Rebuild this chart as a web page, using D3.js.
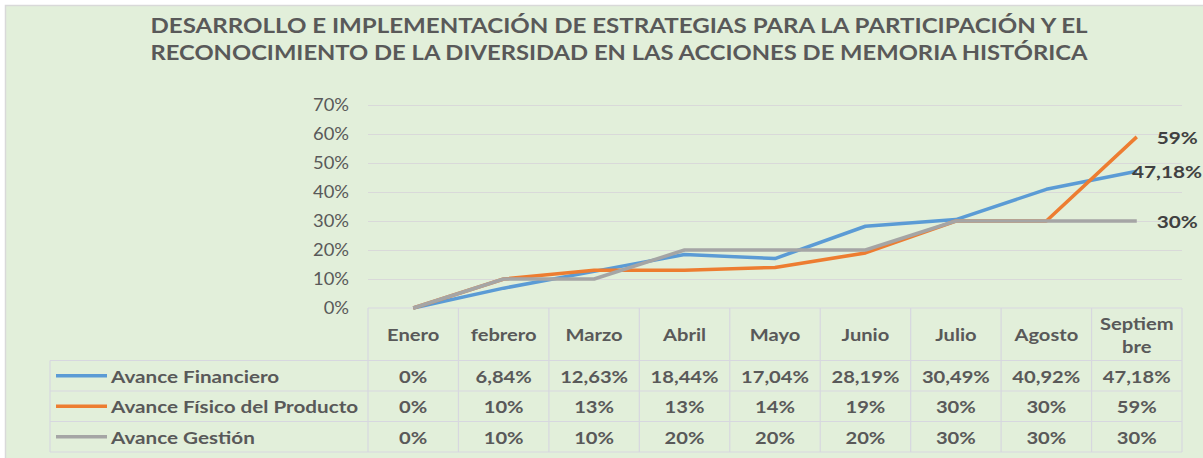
<!DOCTYPE html>
<html>
<head>
<meta charset="utf-8">
<script src="https://cdn.jsdelivr.net/npm/d3@7/dist/d3.min.js"></script>
<style>
  body { margin: 0; background: #ffffff; }
  svg text { font-family: Lato, "Open Sans", sans-serif; }
</style>
</head>
<body>
<div class="visualization"></div>
<script>
// chart data
var titleLines = [
    "DESARROLLO E IMPLEMENTACIÓN DE ESTRATEGIAS PARA LA PARTICIPACIÓN Y EL",
    "RECONOCIMIENTO DE LA DIVERSIDAD EN LAS ACCIONES DE MEMORIA HISTÓRICA"
];
var months = ["Enero", "febrero", "Marzo", "Abril", "Mayo", "Junio", "Julio", "Agosto", "Septiembre"];
var monthLabels = [["Enero"], ["febrero"], ["Marzo"], ["Abril"], ["Mayo"], ["Junio"], ["Julio"], ["Agosto"], ["Septiem", "bre"]];
var seriesNames = ["Avance Financiero", "Avance Físico del Producto", "Avance Gestión"];
var financiero = [0, 0.0684, 0.1263, 0.1844, 0.1704, 0.2819, 0.3049, 0.4092, 0.4718];
var fisico = [0, 0.10, 0.13, 0.13, 0.14, 0.19, 0.30, 0.30, 0.59];
var gestion = [0, 0.10, 0.10, 0.20, 0.20, 0.20, 0.30, 0.30, 0.30];
var yTicks = [0, 0.1, 0.2, 0.3, 0.4, 0.5, 0.6, 0.7];

var colors = ["#5B9BD5", "#ED7D31", "#A5A5A5"];
var width = 1203, height = 458;
var plot = {left: 368, right: 1182, top: 105, bottom: 308};
var rowH = 30.5, headerBottom = 360.5, legendLeft = 50;

var es = d3.formatLocale({decimal: ",", thousands: ".", grouping: [3], currency: ["", "€"]});
var pct2 = es.format(".2%"), pct0 = es.format(".0%");
var series = [
    {name: seriesNames[0], values: financiero, fmt: function(v){ return v === 0 ? "0%" : pct2(v); }},
    {name: seriesNames[1], values: fisico, fmt: pct0},
    {name: seriesNames[2], values: gestion, fmt: pct0}
];

// widen text a bit, the original font is drawn wider than Lato
function stretch(sel, k){
    sel.each(function(){
        var w = this.getComputedTextLength();
        d3.select(this).attr("textLength", w * k).attr("lengthAdjust", "spacingAndGlyphs");
    });
}

var svg = d3.select(".visualization").append("svg")
    .attr("width", width).attr("height", height);

// chart area
svg.append("rect")
    .attr("x", 5.5).attr("y", 5.5)
    .attr("width", width + 10).attr("height", height + 10)
    .attr("fill", "#E2EFDA").attr("stroke", "#D9D9D9").attr("stroke-width", 1.5);

// title
svg.selectAll(".title")
    .data(titleLines)
    .enter().append("text")
    .attr("class", "title")
    .attr("x", 619).attr("y", function(d, i){ return 33 + i * 27; })
    .attr("text-anchor", "middle")
    .attr("font-size", 21).attr("font-weight", "bold")
    .attr("fill", "#595959")
    .attr("textLength", 937).attr("lengthAdjust", "spacingAndGlyphs")
    .text(function(d){ return d; });

var xScale = d3.scaleBand().domain(months).range([plot.left, plot.right]);
var yScale = d3.scaleLinear().domain([0, 0.7]).range([plot.bottom, plot.top]);
var xMid = function(m){ return xScale(m) + xScale.bandwidth() / 2; };

// gridlines
var grid = svg.append("g")
    .attr("transform", "translate(" + plot.left + ",0)")
    .call(d3.axisLeft(yScale).tickValues(yTicks.slice(1)).tickSize(-(plot.right - plot.left)).tickFormat(""));
grid.select(".domain").remove();
grid.selectAll("line").attr("stroke", "#D9D9D9").attr("stroke-width", 1);

// y axis labels
var yAxis = svg.append("g")
    .attr("transform", "translate(349,0)")
    .call(d3.axisLeft(yScale).tickValues(yTicks).tickSize(0).tickPadding(0).tickFormat(d3.format(".0%")));
yAxis.select(".domain").remove();
yAxis.selectAll("text")
    .attr("font-size", 17).attr("fill", "#595959")
    .attr("font-family", "Lato, sans-serif");
stretch(yAxis.selectAll("text"), 1.08);

// data table lines
var table = svg.append("g").attr("stroke", "#D7D7DF").attr("stroke-width", 1.2).attr("fill", "none");
var tableBottom = headerBottom + rowH * 3;
table.append("line").attr("x1", plot.left).attr("x2", plot.right).attr("y1", plot.bottom).attr("y2", plot.bottom);
[0, 1, 2, 3].forEach(function(i){
    var y = headerBottom + i * rowH;
    table.append("line").attr("x1", legendLeft).attr("x2", plot.right).attr("y1", y).attr("y2", y);
});
table.append("line").attr("x1", legendLeft).attr("x2", legendLeft).attr("y1", headerBottom).attr("y2", tableBottom);
months.forEach(function(m){
    table.append("line").attr("x1", xScale(m)).attr("x2", xScale(m)).attr("y1", plot.bottom).attr("y2", tableBottom);
});
table.append("line").attr("x1", plot.right).attr("x2", plot.right).attr("y1", plot.bottom).attr("y2", tableBottom);

// header labels
monthLabels.forEach(function(d, i){
    var cx = xMid(months[i]);
    var y0 = d.length === 1 ? 341 : 330;
    d.forEach(function(s, j){
        var t = svg.append("text")
            .attr("class", "month")
            .attr("x", cx).attr("y", y0 + j * 23)
            .attr("text-anchor", "middle")
            .attr("font-size", 17.5).attr("font-weight", "bold").attr("fill", "#595959")
            .text(s);
        stretch(t, 1.15);
    });
});

// table rows: legend key + values
series.forEach(function(s, i){
    var cy = headerBottom + i * rowH + rowH / 2;
    svg.append("line")
        .attr("x1", 56).attr("x2", 107).attr("y1", cy).attr("y2", cy)
        .attr("stroke", colors[i]).attr("stroke-width", 3.5);
    var name = svg.append("text")
        .attr("x", 111).attr("y", cy + 7)
        .attr("font-size", 17.5).attr("font-weight", "bold").attr("fill", "#595959")
        .text(s.name);
    stretch(name, 1.18);
    var vals = svg.selectAll(".val" + i)
        .data(s.values)
        .enter().append("text")
        .attr("class", "val" + i)
        .attr("x", function(d, j){ return xMid(months[j]); })
        .attr("y", cy + 7)
        .attr("text-anchor", "middle")
        .attr("font-size", 17.5).attr("font-weight", "bold").attr("fill", "#595959")
        .text(function(d){ return s.fmt(d); });
    stretch(vals, 1.15);
});

// lines
var line = d3.line()
    .x(function(d, j){ return xMid(months[j]); })
    .y(function(d){ return yScale(d); });
series.forEach(function(s, i){
    svg.append("path")
        .datum(s.values)
        .attr("d", line)
        .attr("fill", "none")
        .attr("stroke", colors[i])
        .attr("stroke-width", 3.5)
        .attr("stroke-linejoin", "round");
});

// end labels
series.forEach(function(s, i){
    var last = s.values.length - 1;
    var px = xMid(months[last]);
    var lbl = svg.append("text")
        .attr("y", yScale(s.values[last]) + 7)
        .attr("font-size", 17).attr("font-weight", "bold").attr("fill", "#404040")
        .text(s.fmt(s.values[last]));
    var w = lbl.node().getComputedTextLength() * 1.22;
    stretch(lbl, 1.22);
    lbl.attr("x", Math.min(px + 20, width - 1 - w));
});
</script>
</body>
</html>
